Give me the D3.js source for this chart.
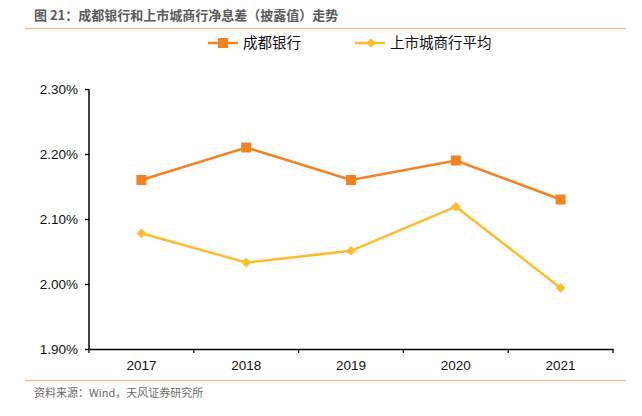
<!DOCTYPE html>
<html>
<head>
<meta charset="utf-8">
<script src="https://cdn.jsdelivr.net/npm/d3@7"></script>
<style>
  body { margin: 0; background: #fff; }
  svg { display: block; }
</style>
</head>
<body>
<svg id="chart" width="642" height="416"></svg>
<script>
// chart data
var years = ["2017", "2018", "2019", "2020", "2021"];
var chengdu = [2.16, 2.21, 2.16, 2.19, 2.13];
var cityAvg = [2.078, 2.033, 2.051, 2.119, 1.994];
var yTicks = [1.90, 2.00, 2.10, 2.20, 2.30];
var seriesNames = ["成都银行", "上市城商行平均"];

var W = 642, H = 416;
var margin = { left: 89, right: 29, top: 89, bottom: 67 };
var orange = "#f58220", yellow = "#fbbd2b", rule = "#f7bf95";
var font = "'Liberation Sans', Arial, Helvetica, sans-serif";
var cjk = "'Noto Sans CJK SC', 'Noto Sans', sans-serif";

var svg = d3.select("#chart");

var x = d3.scaleBand().domain(years).range([margin.left, W - margin.right]);
var y = d3.scaleLinear().domain([1.9, 2.3]).range([H - margin.bottom, margin.top]);

// title + rules
svg.append("text")
  .attr("x", 34).attr("y", 20)
  .style("font-family", cjk).style("font-size", "13px").style("font-weight", "bold")
  .attr("fill", "#5a5a5a")
  .text("图 21：成都银行和上市城商行净息差（披露值）走势");

svg.append("line").attr("x1", 25).attr("x2", 626).attr("y1", 28.5).attr("y2", 28.5)
  .attr("stroke", rule).attr("stroke-width", 1.3);
svg.append("line").attr("x1", 25).attr("x2", 626).attr("y1", 380.5).attr("y2", 380.5)
  .attr("stroke", rule).attr("stroke-width", 1.3);

svg.append("text")
  .attr("x", 34).attr("y", 397)
  .style("font-family", cjk).style("font-size", "11px")
  .attr("fill", "#6b6b6b")
  .text("资料来源：Wind，天风证券研究所");

// axes
var yAxis = d3.axisLeft(y).tickValues(yTicks)
  .tickFormat(function (d) { return d.toFixed(2) + "%"; })
  .tickSize(4).tickPadding(7);
var gy = svg.append("g").attr("transform", "translate(" + margin.left + ",0)").call(yAxis);

var xAxis = d3.axisBottom(x).tickSize(0).tickPadding(11);
var gx = svg.append("g").attr("transform", "translate(0," + (H - margin.bottom) + ")").call(xAxis);

// tick marks between bands on the x axis
gx.selectAll(".sep").data(years.concat(["end"]))
  .enter().append("line")
  .attr("class", "sep")
  .attr("x1", function (d, i) { return margin.left + i * x.step(); })
  .attr("x2", function (d, i) { return margin.left + i * x.step(); })
  .attr("y1", 0).attr("y2", 4)
  .attr("stroke", "#000").attr("stroke-width", 1.3);

[gx, gy].forEach(function (g) {
  g.select(".domain").attr("stroke", "#000").attr("stroke-width", 1.5);
  g.selectAll(".tick line").attr("stroke", "#000").attr("stroke-width", 1.3);
  g.selectAll("text").style("font-family", font).style("font-size", "13.5px").attr("fill", "#111");
});
gy.select(".domain").attr("d", "M0," + margin.top + "V" + (H - margin.bottom));

// lines
var cx = function (d, i) { return x(years[i]) + x.bandwidth() / 2; };
var line = d3.line().x(cx).y(function (d) { return y(d); });

svg.append("path").datum(chengdu)
  .attr("d", line).attr("fill", "none")
  .attr("stroke", orange).attr("stroke-width", 2.5);

svg.append("path").datum(cityAvg)
  .attr("d", line).attr("fill", "none")
  .attr("stroke", yellow).attr("stroke-width", 2.5);

// markers
svg.selectAll(".sq").data(chengdu).enter().append("rect")
  .attr("class", "sq")
  .attr("x", function (d, i) { return cx(d, i) - 5; })
  .attr("y", function (d) { return y(d) - 5; })
  .attr("width", 10).attr("height", 10)
  .attr("fill", orange);

var diamond = d3.symbol().type(d3.symbolDiamond2).size(60);
svg.selectAll(".dm").data(cityAvg).enter().append("path")
  .attr("class", "dm")
  .attr("transform", function (d, i) { return "translate(" + cx(d, i) + "," + y(d) + ")"; })
  .attr("d", diamond)
  .attr("fill", yellow);

// legend
var legend = [
  { name: seriesNames[0], color: orange, x: 208, shape: "sq" },
  { name: seriesNames[1], color: yellow, x: 355, shape: "dm" }
];
var lg = svg.selectAll(".lg").data(legend).enter().append("g")
  .attr("class", "lg")
  .attr("transform", function (d) { return "translate(" + d.x + ",43)"; });

lg.append("line").attr("x1", 0).attr("x2", 30).attr("y1", 0).attr("y2", 0)
  .attr("stroke", function (d) { return d.color; }).attr("stroke-width", 2.5);
lg.each(function (d) {
  var g = d3.select(this);
  if (d.shape === "sq") {
    g.append("rect").attr("x", 10).attr("y", -5).attr("width", 10).attr("height", 10).attr("fill", d.color);
  } else {
    g.append("path").attr("transform", "translate(16,0)").attr("d", diamond).attr("fill", d.color);
  }
});
lg.append("text")
  .attr("x", 35)
  .attr("y", 0).attr("dy", "0.36em")
  .style("font-family", cjk).style("font-size", "14.5px")
  .attr("fill", "#111")
  .text(function (d) { return d.name; });
</script>
</body>
</html>
